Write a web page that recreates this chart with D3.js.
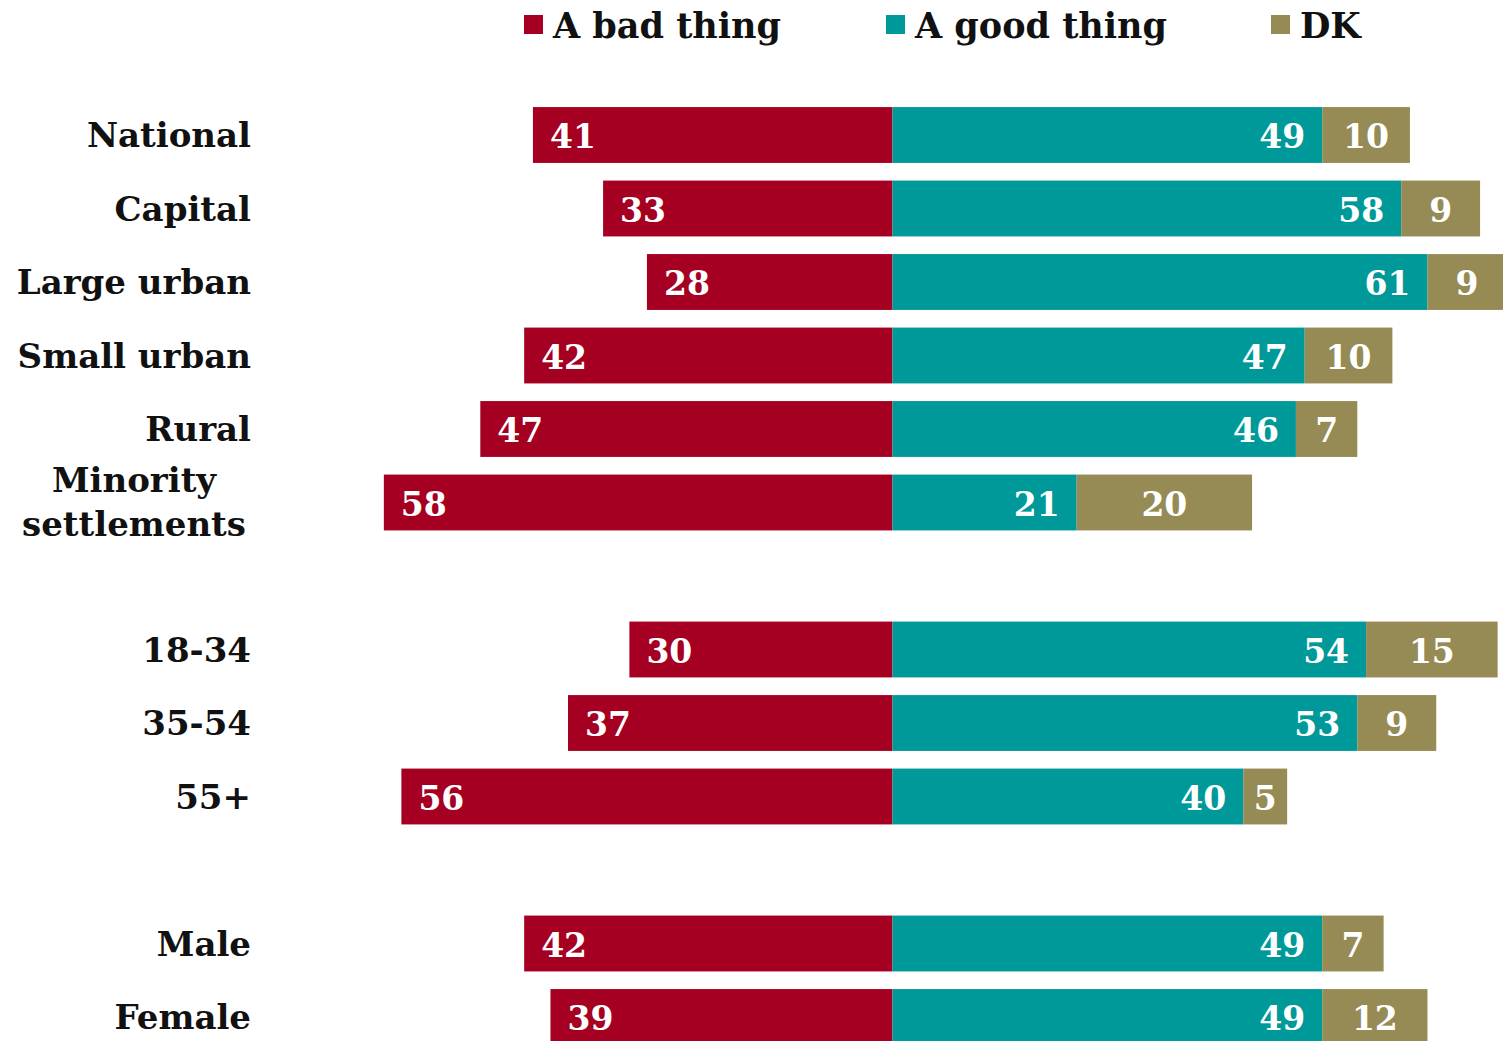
<!DOCTYPE html>
<html>
<head>
<meta charset="utf-8">
<script src="https://cdn.jsdelivr.net/npm/d3@7"></script>
<style>
  html, body { margin: 0; padding: 0; background: #fff; }
  svg { display: block; }
</style>
</head>
<body>
<svg id="chart" width="1503" height="1041"></svg>
<script>
// ---- data ----
const regionCats = ["National", "Capital", "Large urban", "Small urban", "Rural", "Minority settlements"];
const ageCats = ["18-34", "35-54", "55+"];
const genderCats = ["Male", "Female"];
const categories = [...regionCats, ...ageCats, ...genderCats];

const badValues  = [41, 33, 28, 42, 47, 58, 30, 37, 56, 42, 39];
const goodValues = [49, 58, 61, 47, 46, 21, 54, 53, 40, 49, 49];
const dkValues   = [10,  9,  9, 10,  7, 20, 15,  9,  5,  7, 12];

const seriesNames = ["A bad thing", "A good thing", "DK"];
const colors = ["#A50021", "#009999", "#968A55"];

// ---- build ----
const data = categories.map((c, i) => ({ cat: c, bad: badValues[i], good: goodValues[i], dk: dkValues[i] }));

const groups = [regionCats, ageCats, genderCats];
const domain = [];
groups.forEach((g, gi) => {
  if (gi > 0) domain.push("__gap" + gi);
  g.forEach(c => domain.push(c));
});

const svg = d3.select("#chart");
const FONT = "'DejaVu Serif', serif";

const x = d3.scaleLinear().domain([0, 70]).range([892.5, 892.5 + 8.77 * 70]);
const y = d3.scaleBand().domain(domain).range([98.25, 1053.75]).paddingInner(0.24).paddingOuter(0.12);

const rows = svg.append("g").selectAll("g").data(data).join("g")
  .attr("transform", d => `translate(0,${y(d.cat)})`);
const bh = y.bandwidth();
const w = v => x(v) - x(0);

// bad
rows.append("rect")
  .attr("x", d => x(0) - w(d.bad))
  .attr("y", 0).attr("height", bh)
  .attr("width", d => w(d.bad))
  .attr("fill", colors[0]);
// good
rows.append("rect")
  .attr("x", x(0)).attr("y", 0).attr("height", bh)
  .attr("width", d => w(d.good))
  .attr("fill", colors[1]);
// dk
rows.append("rect")
  .attr("x", d => x(d.good)).attr("y", 0).attr("height", bh)
  .attr("width", d => x(d.good + d.dk) - x(d.good))
  .attr("fill", colors[2]);

const valStyle = sel => sel.attr("fill", "#fff").attr("font-family", FONT)
  .attr("font-weight", "bold").attr("font-size", 33).attr("dominant-baseline", "central")
  .attr("y", bh / 2 + 2);

rows.append("text").call(valStyle)
  .attr("x", d => x(0) - w(d.bad) + 17)
  .attr("text-anchor", "start").text(d => d.bad);
rows.append("text").call(valStyle)
  .attr("x", d => x(d.good) - 17)
  .attr("text-anchor", "end").text(d => d.good);
rows.append("text").call(valStyle)
  .attr("x", d => (x(d.good) + x(d.good + d.dk)) / 2)
  .attr("text-anchor", "middle").text(d => d.dk);

// category labels
const labels = svg.append("g").selectAll("text").data(categories).join("text")
  .attr("font-family", FONT).attr("font-weight", "bold").attr("font-size", 34)
  .attr("fill", "#111");
labels.each(function(c) {
  const t = d3.select(this);
  const cy = y(c) + bh / 2;
  const words = c.split(" ");
  if (c === "Minority settlements") {
    t.attr("text-anchor", "middle").attr("x", 134);
    t.append("tspan").attr("x", 134).attr("y", cy - 23).attr("dominant-baseline", "central").text(words[0]);
    t.append("tspan").attr("x", 134).attr("y", cy + 21).attr("dominant-baseline", "central").text(words[1]);
  } else {
    t.attr("text-anchor", "end").attr("x", 251).attr("y", cy).attr("dominant-baseline", "central").text(c);
  }
});

// legend
const legendX = [524, 886, 1271];
const leg = svg.append("g").selectAll("g").data(seriesNames).join("g")
  .attr("transform", (d, i) => `translate(${legendX[i]},0)`);
leg.append("rect").attr("x", 0).attr("y", 15).attr("width", 19).attr("height", 19)
  .attr("fill", (d, i) => colors[i]);
leg.append("text").attr("x", 29).attr("y", 25).attr("dominant-baseline", "central")
  .attr("font-family", FONT).attr("font-weight", "bold").attr("font-size", 35)
  .attr("fill", "#111").text(d => d);
</script>
</body>
</html>
